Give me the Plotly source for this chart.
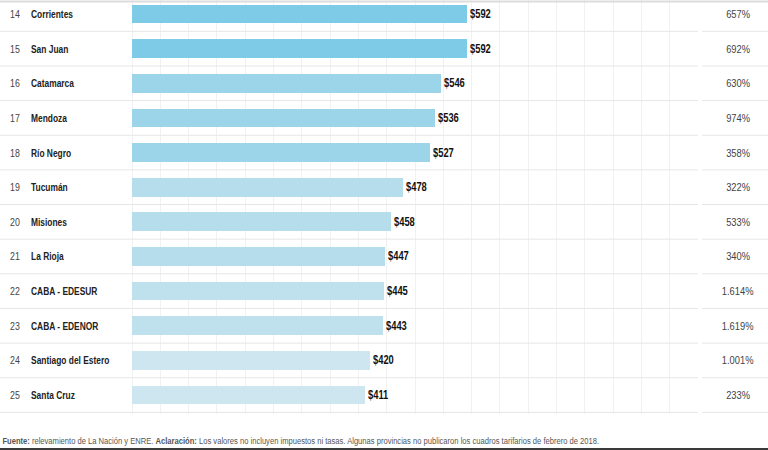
import plotly.graph_objects as go

# ---- data ----
ranks = [14, 15, 16, 17, 18, 19, 20, 21, 22, 23, 24, 25]
provinces = ["Corrientes", "San Juan", "Catamarca", "Mendoza", "Río Negro", "Tucumán",
             "Misiones", "La Rioja", "CABA - EDESUR", "CABA - EDENOR",
             "Santiago del Estero", "Santa Cruz"]
values = [592, 592, 546, 536, 527, 478, 458, 447, 445, 443, 420, 411]
increases = ["657%", "692%", "630%", "974%", "358%", "322%", "533%", "340%",
             "1.614%", "1.619%", "1.001%", "233%"]
grid_vals = list(range(0, 1000, 50))
footer_html = ("<b>Fuente:</b> relevamiento de La Nación y ENRE. <b>Aclaración:</b> "
               "Los valores no incluyen impuestos ni tasas. Algunas provincias no "
               "publicaron los cuadros tarifarios de febrero de 2018.")

W, H = 768, 450
FONT = "Liberation Sans, Arial, sans-serif"


def bar_color(v):
    if v >= 550:
        return "#7ecbe8"
    if v >= 500:
        return "#9cd4ea"
    if v >= 446:
        return "#b5ddec"
    if v >= 440:
        return "#bfe1ee"
    return "#cde6ef"


n = len(values)
ypos = list(range(n))

fig = go.Figure()
fig.add_trace(go.Bar(
    x=values, y=ypos, orientation="h",
    marker=dict(color=[bar_color(v) for v in values], line=dict(width=0)),
    width=0.54,
    hoverinfo="skip",
))

# pixel mapping: bar origin at x=132, 0.566 px per unit
px_per_unit = 0.566
x0_px = 132
xr = [-x0_px / px_per_unit, (W - x0_px) / px_per_unit]

row_px = 34.64
first_center = 14
table_bottom = 414
yr = [(table_bottom - first_center) / row_px, -first_center / row_px]

shapes = []
for i in range(n):
    yb = i + 0.5
    for xa, xb in [(0, 698 / W), (702 / W, 1)]:
        shapes.append(dict(type="line", xref="paper", yref="y", x0=xa, x1=xb,
                           y0=yb, y1=yb, line=dict(color="#e6e6e6", width=1)))
shapes.append(dict(type="line", xref="paper", yref="paper", x0=0, x1=1,
                   y0=1 - 1.5 / H, y1=1 - 1.5 / H, line=dict(color="#dcdcdc", width=2)))
shapes.append(dict(type="rect", xref="paper", yref="paper", x0=0, x1=1,
                   y0=0, y1=2 / H, fillcolor="#3a3a3a", line=dict(width=0)))

annotations = []
narrow_left = []     # indices of annotations condensed from their left edge
narrow_center = []   # indices condensed around their centre
narrow_value = []    # value labels


def add_ann(kind, **kw):
    idx = len(annotations)
    annotations.append(dict(showarrow=False, **kw))
    if kind == "left":
        narrow_left.append(idx)
    elif kind == "center":
        narrow_center.append(idx)
    elif kind == "value":
        narrow_value.append(idx)


for i in range(n):
    add_ann("left", xref="paper", yref="y", x=8 / W, y=i, text=str(ranks[i]),
            xanchor="left", yanchor="middle",
            font=dict(family=FONT, size=11, color="#444444"))
    add_ann("left", xref="paper", yref="y", x=29 / W, y=i,
            text="<b>" + provinces[i] + "</b>", xanchor="left", yanchor="middle",
            font=dict(family=FONT, size=10.5, color="#222222"))
    add_ann("center", xref="paper", yref="y", x=738 / W, y=i, text=increases[i],
            xanchor="center", yanchor="middle",
            font=dict(family=FONT, size=11, color="#444444"))
    add_ann("value", xref="x", yref="y", x=values[i], y=i, xshift=1,
            text="<b>$%d</b>" % values[i], xanchor="left", yanchor="middle",
            font=dict(family=FONT, size=12, color="#111111"))

add_ann("left", xref="paper", yref="paper", x=0, y=1 - 440 / H,
        text=footer_html, xanchor="left", yanchor="middle",
        font=dict(family=FONT, size=9.5, color="#555555"))

fig.update_layout(
    width=W, height=H,
    margin=dict(l=0, r=0, t=0, b=0),
    paper_bgcolor="white", plot_bgcolor="white",
    showlegend=False,
    bargap=0,
    xaxis=dict(range=xr, domain=[0, 1], tickvals=grid_vals, showticklabels=False,
               showgrid=True, gridcolor="#f1f1f1", gridwidth=1, zeroline=False,
               showline=False, fixedrange=True),
    yaxis=dict(range=yr, domain=[1 - table_bottom / H, 1], showticklabels=False,
               showgrid=False, zeroline=False, showline=False, fixedrange=True),
    shapes=shapes,
    annotations=annotations,
)

# condensed look of the original typeface
css = ["html,body{margin:0;padding:0;overflow:hidden;}"]
for idx in narrow_left:
    css.append('g.annotation[data-index="' + str(idx) + '"] text{transform-box:fill-box;'
               'transform-origin:0% 50%;transform:scaleX(0.8);}')
for idx in narrow_value:
    css.append('g.annotation[data-index="' + str(idx) + '"] text{transform-box:fill-box;'
               'transform-origin:0% 50%;transform:scaleX(0.78);}')
for idx in narrow_center:
    css.append('g.annotation[data-index="' + str(idx) + '"] text{transform-box:fill-box;'
               'transform-origin:50% 50%;transform:scaleX(0.85);}')
post = ("var s=document.createElement('style');s.textContent=" + repr("".join(css)) + ";"
        "document.head.appendChild(s);")

fig.write_html("out.html", config={"displayModeBar": False}, post_script=post)
